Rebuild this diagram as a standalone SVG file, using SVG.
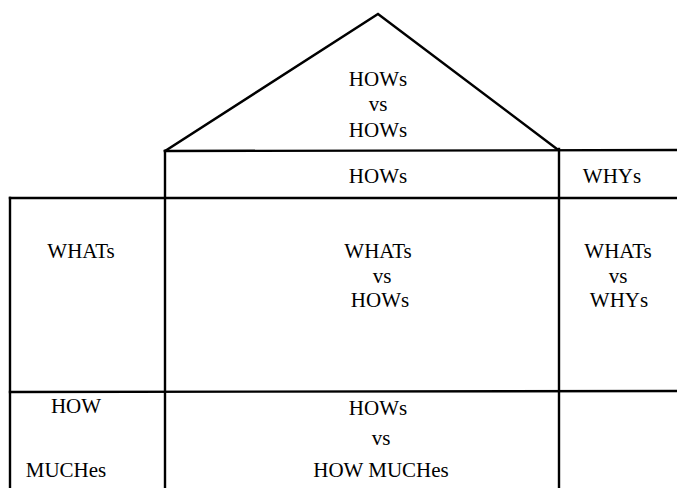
<svg xmlns="http://www.w3.org/2000/svg" width="677" height="488" viewBox="0 0 677 488">
<style>
.ln{stroke:#000;stroke-width:2.4;fill:none;stroke-linecap:square}
text{font-family:"Liberation Serif","Times New Roman",serif;font-size:21px;fill:#000;text-anchor:middle}
</style>
<rect width="677" height="488" fill="#fff"/>
<g id="connectors">
<polyline class="ln" points="165,151 378,14 557,149"/>
<line class="ln" x1="165" y1="151" x2="677" y2="150"/>
<line class="ln" x1="10" y1="198" x2="677" y2="198"/>
<line class="ln" x1="10" y1="392" x2="677" y2="391"/>
<line class="ln" x1="10" y1="198" x2="10" y2="488"/>
<line class="ln" x1="165" y1="151" x2="165" y2="488"/>
<line class="ln" x1="559" y1="149" x2="559" y2="488"/>
</g>
<g id="roof">
<text x="378" y="86">HOWs</text>
<text x="378" y="111">vs</text>
<text x="378" y="137">HOWs</text>
</g>
<g id="hows">
<text x="378" y="183">HOWs</text>
</g>
<g id="whys">
<text x="612" y="183">WHYs</text>
</g>
<g id="whats">
<text x="81" y="258">WHATs</text>
</g>
<g id="whats-vs-hows">
<text x="378" y="258">WHATs</text>
<text x="382" y="283">vs</text>
<text x="380" y="307">HOWs</text>
</g>
<g id="whats-vs-whys">
<text x="618" y="258">WHATs</text>
<text x="618" y="283">vs</text>
<text x="619" y="307">WHYs</text>
</g>
<g id="how-muches">
<text x="76" y="413">HOW</text>
<text x="66" y="477">MUCHes</text>
</g>
<g id="hows-vs-how-muches">
<text x="378" y="415">HOWs</text>
<text x="381" y="445">vs</text>
<text x="381" y="477">HOW MUCHes</text>
</g>
</svg>
